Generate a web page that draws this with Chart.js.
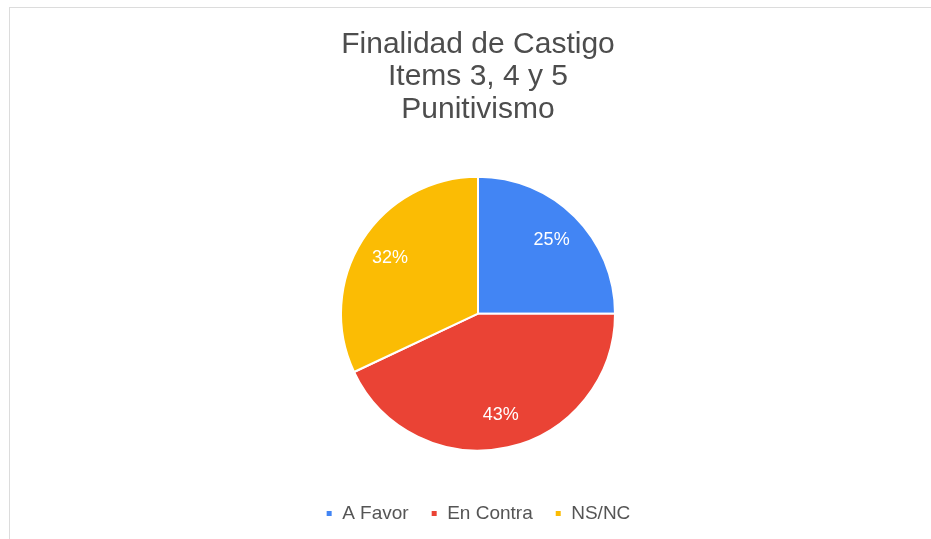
<!DOCTYPE html>
<html>
<head>
<meta charset="utf-8">
<script src="https://cdn.jsdelivr.net/npm/chart.js"></script>
<style>
    html, body { margin: 0; padding: 0; background: #fff; overflow: hidden; }
    #wrap {
        position: absolute;
        left: 9px; top: 7px; right: 0; bottom: 0;
        border-top: 1px solid #dcdcdc;
        border-left: 1px solid #dcdcdc;
    }
</style>
</head>
<body>
<div id="wrap"><canvas id="castigo-chart"></canvas></div>
<script>
const titleLines = ["Finalidad de Castigo", "Items 3, 4 y 5", "Punitivismo"];
const categories = ["A Favor", "En Contra", "NS/NC"];
const values = [25, 43, 32];
const colors = ["#4285f4", "#ea4335", "#fbbc04"];

const fontFamily = "'Liberation Sans', Arial, sans-serif";

// percentages drawn inside each slice
const sliceLabels = {
    id: "sliceLabels",
    afterDatasetsDraw(chart) {
        const ctx = chart.ctx;
        const meta = chart.getDatasetMeta(0);
        const total = values.reduce((a, b) => a + b, 0);
        ctx.save();
        ctx.font = "18px " + fontFamily;
        ctx.fillStyle = "#ffffff";
        ctx.textAlign = "center";
        ctx.textBaseline = "middle";
        meta.data.forEach((arc, i) => {
            const p = arc.getProps(["x", "y", "startAngle", "endAngle", "outerRadius"], true);
            const mid = (p.startAngle + p.endAngle) / 2;
            const r = p.outerRadius * 0.76;
            const text = Math.round(values[i] / total * 100) + "%";
            ctx.fillText(text, p.x + Math.cos(mid) * r, p.y + Math.sin(mid) * r);
        });
        ctx.restore();
    }
};

const chartOptions = {
    responsive: true,
    maintainAspectRatio: false,
    animation: false,
    radius: 137,
    layout: {
        padding: { left: 15, right: 0, top: 0, bottom: 6 }
    },
    plugins: {
        title: {
            display: true,
            text: titleLines,
            color: "#4d4d4d",
            font: { family: fontFamily, size: 30, weight: "normal", lineHeight: 1.07 },
            padding: { top: 21, bottom: 20 }
        },
        legend: {
            position: "bottom",
            labels: {
                boxWidth: 7,
                boxHeight: 7,
                padding: 22,
                color: "#555555",
                font: { family: fontFamily, size: 19 }
            }
        },
        tooltip: { enabled: false }
    }
};

new Chart("castigo-chart", {
    type: "pie",
    data: {
        labels: categories,
        datasets: [{
            data: values,
            backgroundColor: colors,
            borderColor: "#ffffff",
            borderWidth: 2
        }]
    },
    options: chartOptions,
    plugins: [sliceLabels]
});
</script>
</body>
</html>
